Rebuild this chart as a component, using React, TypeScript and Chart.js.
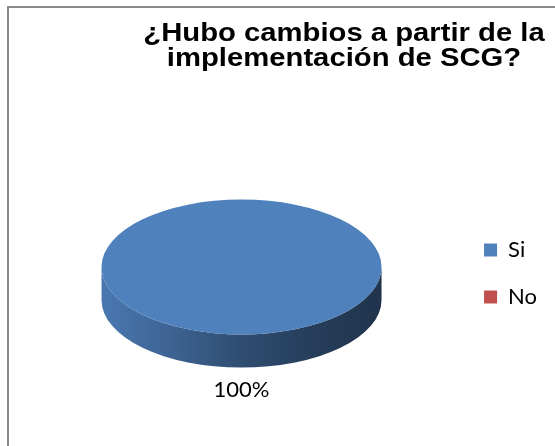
import { useEffect, useRef } from 'react';
import { Chart, registerables } from 'chart.js';

Chart.register(...registerables);

const categories = ['Si', 'No'];
const values = [100, 0];
const sliceColors = ['#4F81BD', '#C0504D'];
const titleLines = ['¿Hubo cambios a partir de la', 'implementación de SCG?'];

const TILT = 0.482;
const DEPTH_RATIO = 0.236;
const LIFT = 6.5;

function shade(hex: string, f: number) {
  const n = parseInt(hex.slice(1), 16);
  const r = Math.round(((n >> 16) & 255) * f);
  const g = Math.round(((n >> 8) & 255) * f);
  const b = Math.round((n & 255) * f);
  return `rgb(${r},${g},${b})`;
}

const framePlugin = {
  id: 'frame',
  beforeDraw(chart: any) {
    const ctx = chart.ctx;
    ctx.save();
    ctx.strokeStyle = '#8a8a8a';
    ctx.lineWidth = 2;
    ctx.strokeRect(8, 7, chart.width + 20, chart.height + 20);
    ctx.restore();
  },
};

const titlePlugin = {
  id: 'stretchedTitle',
  afterDraw(chart: any) {
    const ctx = chart.ctx;
    ctx.save();
    ctx.fillStyle = '#000';
    ctx.font = 'bold 25px "Liberation Sans", Arial, sans-serif';
    ctx.textAlign = 'center';
    ctx.textBaseline = 'alphabetic';
    titleLines.forEach((t, i) => {
      ctx.save();
      ctx.translate(344, 41 + i * 24.5);
      ctx.scale(1.17, 1);
      ctx.fillText(t, 0, 0);
      ctx.restore();
    });
    ctx.restore();
  },
};

const pie3dPlugin = {
  id: 'pie3d',
  beforeDatasetsDraw(chart: any) {
    const meta = chart.getDatasetMeta(0);
    const arcs = meta.data;
    if (!arcs.length) return;
    const ctx = chart.ctx;
    const { x, y, outerRadius: r } = arcs[0];
    const ry = r * TILT;
    const d = r * DEPTH_RATIO;
    const fy = y - LIFT;
    arcs.forEach((arc: any, i: number) => {
      const a0 = Math.max(arc.startAngle, 0);
      const a1 = Math.min(arc.endAngle, Math.PI);
      if (a1 <= a0) return;
      const col = sliceColors[i % sliceColors.length];
      const grad = ctx.createLinearGradient(x - r, 0, x + r, 0);
      grad.addColorStop(0, shade(col, 0.93));
      grad.addColorStop(0.25, shade(col, 0.77));
      grad.addColorStop(0.5, shade(col, 0.6));
      grad.addColorStop(0.75, shade(col, 0.48));
      grad.addColorStop(1, shade(col, 0.4));
      ctx.save();
      ctx.beginPath();
      ctx.ellipse(x, fy, r, ry, 0, a0, a1, false);
      ctx.lineTo(x + r * Math.cos(a1), fy + d + ry * Math.sin(a1));
      ctx.ellipse(x, fy + d, r, ry, 0, a1, a0, true);
      ctx.closePath();
      ctx.fillStyle = grad;
      ctx.fill();
      ctx.restore();
    });
    ctx.save();
    ctx.translate(x, fy);
    ctx.scale(1, TILT);
    ctx.translate(-x, -y);
  },
  afterDatasetsDraw(chart: any) {
    const ctx = chart.ctx;
    ctx.restore();
    const meta = chart.getDatasetMeta(0);
    const arcs = meta.data;
    if (!arcs.length) return;
    const data = chart.data.datasets[0].data as number[];
    const total = data.reduce((a, b) => a + b, 0);
    ctx.save();
    ctx.fillStyle = '#000';
    ctx.font = '22px Lato, "Open Sans", sans-serif';
    ctx.textAlign = 'center';
    ctx.textBaseline = 'middle';
    arcs.forEach((arc: any, i: number) => {
      if (!data[i]) return;
      const { x, y, outerRadius: r } = arc;
      const ry = r * TILT;
      const d = r * DEPTH_RATIO;
      const fy = y - LIFT;
      const m = (arc.startAngle + arc.endAngle) / 2;
      const off = 22;
      const sinm = Math.sin(m);
      const lx = x + (r + off) * Math.cos(m);
      const ly = fy + (ry + off) * sinm + (sinm > 0 ? d : 0);
      ctx.fillText(`${Math.round((data[i] / total) * 100)}%`, lx, ly);
    });
    ctx.restore();
  },
};

export default function App() {
  const ref = useRef<HTMLCanvasElement>(null);
  useEffect(() => {
    document.body.style.margin = '0';
    const chart = new Chart(ref.current as HTMLCanvasElement, {
      type: 'pie',
      data: {
        labels: categories,
        datasets: [
          {
            data: values,
            backgroundColor: sliceColors,
            borderWidth: 0,
            radius: 140,
            clip: false as any,
          } as any,
        ],
      },
      options: {
        responsive: false,
        animation: false,
        events: [],
        layout: { padding: { left: 24, right: 8, top: 121, bottom: 20 } },
        plugins: {
          title: { display: false },
          tooltip: { enabled: false },
          legend: {
            display: true,
            position: 'right',
            align: 'center',
            labels: {
              color: '#000',
              boxWidth: 13,
              boxHeight: 13,
              padding: 25,
              font: { family: 'Lato, "Open Sans", sans-serif', size: 22 },
            },
          },
        },
      },
      plugins: [framePlugin, pie3dPlugin, titlePlugin],
    });
    return () => chart.destroy();
  }, []);
  return <canvas ref={ref} width={555} height={446} style={{ display: 'block' }} />;
}
